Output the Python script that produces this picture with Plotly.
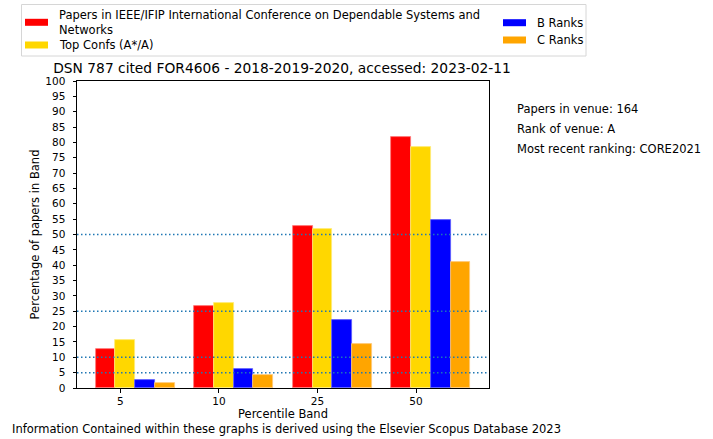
import plotly.graph_objects as go

bands = ["5", "10", "25", "50"]
venue_pct = [12.8, 26.7, 52.9, 81.9]
top_pct = [15.6, 27.8, 51.8, 78.6]
b_pct = [2.6, 6.3, 22.1, 54.8]
c_pct = [1.5, 4.2, 14.4, 41.2]
ref_lines = [5, 10, 25, 50]
series_names = [
    "Papers in IEEE/IFIP International Conference on Dependable Systems and<br>Networks",
    "Top Confs (A*/A)",
    "B Ranks",
    "C Ranks",
]
side_text = ["Papers in venue: 164", "Rank of venue: A", "Most recent ranking: CORE2021"]
title_text = "DSN 787 cited FOR4606 - 2018-2019-2020, accessed: 2023-02-11"
footer_text = "Information Contained within these graphs is derived using the Elsevier Scopus Database 2023"

colors = ["#ff0000", "#ffd700", "#0000ff", "#ffa500"]
edge = ["rgba(255,120,120,1)", "rgba(255,235,120,1)", "rgba(90,90,255,1)", "rgba(255,200,120,1)"]
bw = 0.2
FONT = "DejaVu Sans"
W, H = 713, 439
PW, PH, ML, MT = 412, 307, 77, 81

# legend layout (pixel positions): symbol left x, centre y
leg_pos = [(25, 22.3), (25, 45), (503, 22.7), (503, 40)]


def px_x(p):
    return (p - ML) / PW


def px_y(p):
    return 1 - (p - MT) / PH


fig = go.Figure()
for k, vals in enumerate([venue_pct, top_pct, b_pct, c_pct]):
    fig.add_trace(go.Bar(
        x=[i + k * bw for i in range(len(bands))],
        y=vals,
        width=bw,
        name=series_names[k].replace("<br>", " "),
        marker=dict(color=colors[k], line=dict(color=edge[k], width=0.8)),
        showlegend=False,
    ))

for v in ref_lines:
    fig.add_shape(type="line", xref="paper", x0=0, x1=1, yref="y", y0=v, y1=v,
                  line=dict(color="#1f77b4", width=1.5, dash="1.5px,2.5px"), layer="above")

# legend frame and entries
fig.add_shape(type="rect", xref="paper", yref="paper", x0=px_x(21.5), x1=px_x(586), y0=px_y(56), y1=px_y(4.5),
              line=dict(color="#d6d6d6", width=1), fillcolor="white", layer="below")
for k, (sx, sy) in enumerate(leg_pos):
    fig.add_shape(type="rect", xref="paper", yref="paper", x0=px_x(sx), x1=px_x(sx + 23),
                  y0=px_y(sy + 3.5), y1=px_y(sy - 3.5), line=dict(width=0), fillcolor=colors[k])
    fig.add_annotation(text=series_names[k], xref="paper", yref="paper", x=px_x(sx + 32), y=px_y(sy),
                       xanchor="left", yanchor="middle", align="left", showarrow=False,
                       font=dict(family=FONT, size=11.5, color="black"))

for j, t in enumerate(side_text):
    fig.add_annotation(text=t, xref="paper", yref="paper", x=px_x(515), y=px_y(109 + 20 * j),
                       xanchor="left", yanchor="middle", showarrow=False,
                       font=dict(family=FONT, size=11.5, color="black"))

fig.add_annotation(text=footer_text, xref="paper", yref="paper", x=px_x(10), y=px_y(429),
                   xanchor="left", yanchor="middle", showarrow=False,
                   font=dict(family=FONT, size=11.5, color="black"))

fig.update_layout(
    width=W, height=H,
    margin=dict(l=ML, r=W - ML - PW, t=MT, b=H - MT - PH, autoexpand=False),
    paper_bgcolor="white", plot_bgcolor="white",
    barmode="overlay",
    font=dict(family=FONT, size=11, color="black"),
    title=dict(text=title_text, x=(ML + PW / 2 - 1) / W, xanchor="center", y=1 - 68.5 / H, yanchor="middle",
               font=dict(family=FONT, size=13.8, color="black")),
    showlegend=False,
    bargap=0,
)
fig.update_xaxes(
    range=[-0.29, 3.89], tickvals=[i + 0.15 for i in range(len(bands))], ticktext=bands,
    showline=True, linecolor="black", linewidth=1, mirror=True, ticks="outside", ticklen=3.5,
    tickcolor="black", showgrid=False, zeroline=False, tickfont=dict(size=10.5),
    title=dict(text="Percentile Band", standoff=2, font=dict(size=11.5)),
)
fig.update_yaxes(
    range=[0, 100], dtick=5, tick0=0,
    showline=True, linecolor="black", linewidth=1, mirror=True, ticks="outside", ticklen=3.5,
    tickcolor="black", showgrid=False, zeroline=False, tickfont=dict(size=10.5),
    ticklabelstandoff=5,
    title=dict(text="Percentage of papers in Band", standoff=3, font=dict(size=11.5)),
)
fig.write_html("out.html", config={"displayModeBar": False},
               post_script="document.body.style.margin='0px';")
